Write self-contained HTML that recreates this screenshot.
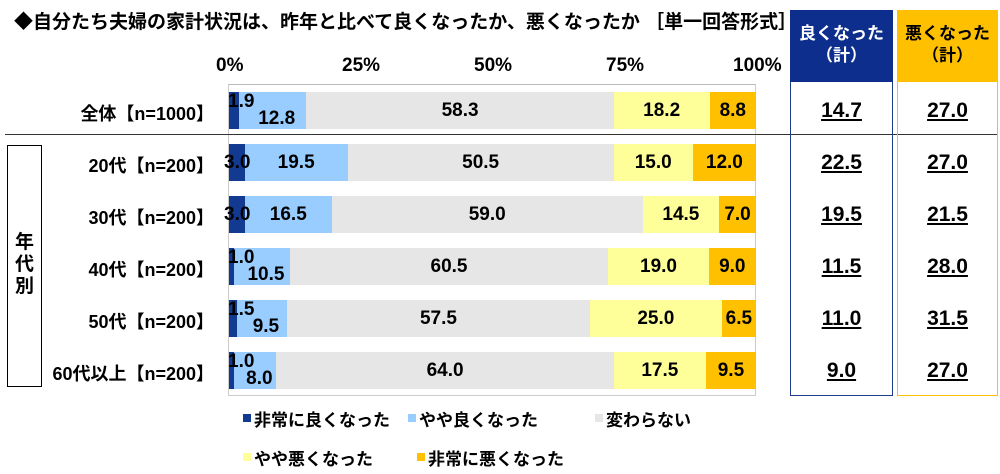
<!DOCTYPE html>
<html><head><meta charset="utf-8"><style>
body{margin:0;width:1000px;height:474px;background:#fff;position:relative;overflow:hidden;font-family:"Liberation Sans","Noto Sans CJK JP",sans-serif;font-weight:bold;color:#000}
.a{position:absolute}
.t{position:absolute;white-space:nowrap;font-size:18px}
.seg{position:absolute;height:37px}
.lab{position:absolute;font-size:19px;line-height:19px;white-space:nowrap;z-index:5}
.lg{position:absolute;white-space:nowrap;font-size:17px}
</style></head><body>
<div class="t" style="left:14px;top:7px;font-size:19px">◆自分たち夫婦の家計状況は、昨年と比べて良くなったか、悪くなったか ［単一回答形式］</div>
<div class="t" style="left:216px;top:55px;font-size:19px">0%</div>
<div class="t" style="left:342px;top:55px;font-size:19px">25%</div>
<div class="t" style="left:474px;top:55px;font-size:19px">50%</div>
<div class="t" style="left:606px;top:55px;font-size:19px">75%</div>
<div class="t" style="left:733px;top:55px;font-size:19px">100%</div>
<div class="a" style="left:228px;top:84px;width:528px;height:312px;border:1px solid #ccc;box-sizing:border-box;border-top-color:#bbb"></div>
<div class="a" style="left:5px;top:134px;width:993px;height:1px;background:#333"></div>
<div class="a" style="left:7px;top:145px;width:35px;height:242px;border:1.5px solid #000;box-sizing:border-box"></div>
<div class="t" style="left:15px;top:232px;width:19px;line-height:22px;white-space:normal;font-size:19px">年代別</div>
<div class="a" style="left:790px;top:10px;width:103px;height:72px;background:#0E2E8E;color:#fff;text-align:center;font-size:17px;line-height:22px;padding-top:13px;box-sizing:border-box">良くなった<br>（計）</div>
<div class="a" style="left:790px;top:82px;width:103px;height:314px;border:1px solid #1F3C8A;border-top:none;box-sizing:border-box"></div>
<div class="a" style="left:897px;top:10px;width:101px;height:72px;background:#FFC000;text-align:center;font-size:17px;line-height:22px;padding-top:13px;box-sizing:border-box">悪くなった<br>（計）</div>
<div class="a" style="left:897px;top:82px;width:101px;height:314px;border:1px solid #FFC000;border-top:none;box-sizing:border-box"></div>
<div id="c"></div>
<div class="a" style="left:243px;top:414px;width:8px;height:8px;background:#133A91"></div><div class="lg" style="left:254px;top:406px">非常に良くなった</div>
<div class="a" style="left:408px;top:414px;width:8px;height:8px;background:#99CCFF"></div><div class="lg" style="left:419px;top:406px">やや良くなった</div>
<div class="a" style="left:595px;top:414px;width:8px;height:8px;background:#E6E6E6"></div><div class="lg" style="left:606px;top:406px">変わらない</div>
<div class="a" style="left:243px;top:453px;width:8px;height:8px;background:#FFFF99"></div><div class="lg" style="left:254px;top:445px">やや悪くなった</div>
<div class="a" style="left:417px;top:453px;width:8px;height:8px;background:#FFC000"></div><div class="lg" style="left:428px;top:445px">非常に悪くなった</div>
<script>
var rows=[["全体【n=1000】",[1.9,12.8,58.3,18.2,8.8],"14.7","27.0"],
["20代【n=200】",[3.0,19.5,50.5,15.0,12.0],"22.5","27.0"],
["30代【n=200】",[3.0,16.5,59.0,14.5,7.0],"19.5","21.5"],
["40代【n=200】",[1.0,10.5,60.5,19.0,9.0],"11.5","28.0"],
["50代【n=200】",[1.5,9.5,57.5,25.0,6.5],"11.0","31.5"],
["60代以上【n=200】",[1.0,8.0,64.0,17.5,9.5],"9.0","27.0"]];
var cols=["#133A91","#99CCFF","#E6E6E6","#FFFF99","#FFC000"];
var h="",X0=229;
rows.forEach(function(r,i){
 var y=92+i*52,x=X0,tot=r[1].reduce(function(a,b){return a+b},0);
 h+='<div class="t" style="right:786px;top:'+(y+8)+'px">'+r[0]+'</div>';
 r[1].forEach(function(v,j){
  var w=v/tot*527;
  h+='<div class="seg" style="left:'+x+'px;top:'+y+'px;width:'+(w+0.5)+'px;background:'+cols[j]+'"></div>';
  var small=r[1][0]<2;
  if(j==0){
   if(small) h+='<div class="lab" style="left:'+(x-1)+'px;top:'+(y)+'px">'+v.toFixed(1)+'</div>';
   else h+='<div class="lab" style="left:'+(x-5)+'px;top:'+(y+9)+'px">'+v.toFixed(1)+'</div>';
  } else if(j==1 && small){
   h+='<div class="lab" style="left:'+(x+4)+'px;width:'+w+'px;text-align:center;top:'+(y+17)+'px">'+v.toFixed(1)+'</div>';
  } else {
   h+='<div class="lab" style="left:'+x+'px;width:'+w+'px;text-align:center;top:'+(y+9)+'px">'+v.toFixed(1)+'</div>';
  }
  x+=w;
 });
 h+='<div class="lab" style="left:790px;width:103px;text-align:center;top:'+(y+9)+'px;text-decoration:underline;font-size:21px">'+r[2]+'</div>';
 h+='<div class="lab" style="left:897px;width:101px;text-align:center;top:'+(y+9)+'px;text-decoration:underline;font-size:21px">'+r[3]+'</div>';
});
document.getElementById("c").innerHTML=h;
</script>
</body></html>
